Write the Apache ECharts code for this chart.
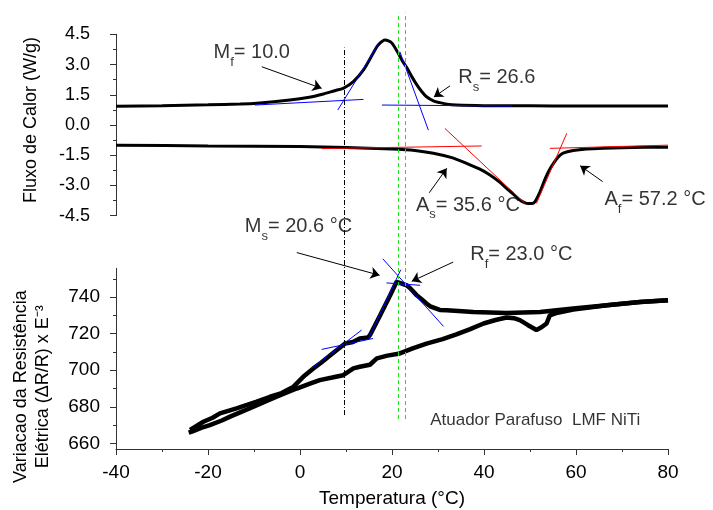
<!DOCTYPE html>
<html>
<head>
<meta charset="utf-8">
<script src="https://cdn.jsdelivr.net/npm/echarts@6/dist/echarts.min.js"></script>
<style>html,body{margin:0;padding:0;background:#fff}#c{width:713px;height:510px}</style>
</head>
<body>
<div id="c"></div>
<script>
// ---------- DATA ----------
// DSC, cooling run (upper curve)
const dscCoolX = [-40,-30,-20,-13,-9.4,-2.2,2,5.1,7.5,9.4,11.6,13.8,15.9,17,18.5,19.9,21.2,22.2,23.2,24.3,25.4,26.5,27.5,29,30.4,32,34,40,50,60,70,80];
const dscCoolY = [0.93,0.96,1.0,1.04,1.08,1.24,1.38,1.54,1.7,1.82,2.15,2.73,3.56,3.97,4.22,4.08,3.62,3.2,2.85,2.4,1.99,1.65,1.4,1.2,1.11,1.03,0.99,0.96,0.95,0.94,0.94,0.94];
// DSC, heating run (lower curve)
const dscHeatX = [-40,-20,0,10,20,25,29,33,36.2,39,41.3,43.2,44.9,46.5,47.8,48.8,49.6,50.4,51.1,52.2,52.9,54,55.1,56.2,57.2,59.4,62.3,66,70,75,80];
const dscHeatY = [-1.0,-1.04,-1.07,-1.12,-1.19,-1.26,-1.4,-1.62,-1.9,-2.18,-2.48,-2.8,-3.14,-3.45,-3.72,-3.85,-3.9,-3.9,-3.8,-3.31,-2.89,-2.32,-1.9,-1.57,-1.4,-1.27,-1.19,-1.15,-1.13,-1.11,-1.1];
// Resistance, cooling run
const resCoolX = [80,73.9,66.7,59.4,52.2,44.9,37.7,31.9,30.4,28.3,27.5,26.1,25.4,23.9,23.2,22,21,20.7,19.6,17.4,15.2,14.8,13,11.5,9.8,7,4.5,2.9,0.7,-1.4,-4,-6.5,-9.4,-11.5,-13.8,-17.4,-19,-21,-23.9];
const resCoolY = [738.3,737.4,735.6,733.8,731.9,731.4,731.9,732.8,733,735,736.5,739.5,741,745,746.5,747.6,748.4,747.5,741,730,719.2,718,717.4,715.5,714.6,709,704,701,696.4,691,687.5,685.5,682.8,681,679.1,676.4,674,671.8,667.3];
// Resistance, heating run
const resHeatX = [-24.2,-23.5,-21.5,-19.6,-17,-15.2,-12.5,-10.1,-7,-4.3,-0.7,2,4.3,7,9.4,11.6,13,15.2,16.7,19,21.7,24.5,27.5,31,34,37,39.9,42.5,44.9,46.5,47.8,49.5,51.4,52.5,53.6,54.3,56,59.4,62,66.7,73.9,80];
const resHeatY = [665.8,666.4,668.5,670,672.5,674.6,677.5,680,683.5,686.4,690,692.5,694.6,696,697.3,701,701.9,703,706.5,708,709.2,712,714.6,717,719.6,722.5,725.6,727.5,728.9,728.5,727.4,724.8,722,723.5,725.6,730,731.5,733.2,734,735.6,737.4,738.3];

// tangent construction lines [x1, y1, x2, y2]
const dscBlueTangents = [[-9.8,0.99,13.8,1.27],[8.2,0.74,17.0,4.0],[21.7,3.64,27.9,-0.25],[17.8,0.99,46,0.94]];
const dscRedTangents = [[4.7,-1.17,39.5,-1.04],[31.5,-0.17,48.9,-3.89],[51.4,-3.89,58,-0.41],[54.3,-1.16,80,-1.0]];
const resBlueTangents = [[2.5,701,13.4,722],[4.7,711.4,15.9,717.4],[14.9,717.4,21.9,755],[18,761,31.2,724],[18.8,747.8,26.1,746.5]];

// transition temperature guide lines
const mfGuideX = 9.6;
const greenGuideX = [21.4, 22.9];

// tick labels
const xTicks = [-40,-20,0,20,40,60,80];
const dscTicks = [-4.5,-3.0,-1.5,0.0,1.5,3.0,4.5];
const resTicks = [660,680,700,720,740];
const resMinorTicks = [670,690,710,730,750];

// annotation texts
const topLabels = [['M','f','= 10.0'],['R','s','= 26.6'],['A','s','= 35.6 °C'],['A','f','= 57.2 °C']];
const bottomLabels = [['M','s','= 20.6 °C'],['R','f','= 23.0 °C']];
const sampleNote = 'Atuador Parafuso  LMF NiTi';

// ---------- LAYOUT (positions in data units) ----------
const topLabelPos = [[-18.8,3.45],[34.4,2.21],[25.2,-4.13],[66.2,-3.86]];
const topArrows = [[-8.3,2.89,4.7,1.82],[32.6,1.94,29.1,1.39],[28.1,-3.36,31.9,-2.15],[65.8,-2.81,60.9,-2.02]];
const bottomLabelPos = [[-12,776.8],[37,761.5]];
const bottomArrows = [[-0.7,764.4,17.3,752],[33.3,759.2,24.3,748.7]];
const notePos = [28.3,672.7];
const mfGuideSpan = [675.5,876.6];
const greenGuideSpan = [673.3,895.7];

const FONT = '"Liberation Sans", Arial, sans-serif';
const AX = '#333';
const zip = (xs, ys) => xs.map((x, i) => [x, ys[i]]);
const segs = (arr) => arr.map(s => ({coords: [[s[0], s[1]], [s[2], s[3]]]}));
const rich = {
  a: {fontSize: 20, fontFamily: FONT, color: '#000', lineHeight: 26, verticalAlign: 'top'},
  s: {fontSize: 13, fontFamily: FONT, color: '#000', lineHeight: 8, verticalAlign: 'bottom'}
};
const richText = (l) => '{a|' + l[0] + '}{s|' + l[1] + '}{a|' + l[2] + '}';

const chart = echarts.init(document.getElementById('c'), null, {renderer: 'canvas'});
const option = {
  animation: false,
  backgroundColor: '#fff',
  textStyle: {fontFamily: FONT, color: '#000'},
  grid: [
    {left: 116, top: 34.3, width: 552, height: 181.4, containLabel: false, outerBoundsMode: 'none'},
    {left: 116, top: 268.3, width: 552, height: 180.7, containLabel: false, outerBoundsMode: 'none'}
  ],
  xAxis: [
    {gridIndex: 0, type: 'value', min: -40, max: 80, show: false},
    {gridIndex: 1, type: 'value', min: -40, max: 80, interval: 20,
      axisLine: {show: true, onZero: false, lineStyle: {color: AX, width: 1}},
      axisTick: {show: true, length: 6, lineStyle: {color: AX}, customValues: xTicks},
      minorTick: {show: true, splitNumber: 2, length: 3, lineStyle: {color: AX}},
      splitLine: {show: false},
      axisLabel: {fontSize: 19, color: '#000', margin: 14, fontFamily: FONT, customValues: xTicks},
      name: 'Temperatura (°C)', nameLocation: 'middle', nameGap: 40, nameMoveOverlap: false,
      nameTextStyle: {fontSize: 19, color: '#000', fontFamily: FONT}}
  ],
  yAxis: [
    {gridIndex: 0, type: 'value', min: -4.5, max: 4.5, interval: 1.5,
      axisLine: {show: true, onZero: false, lineStyle: {color: AX, width: 1}},
      axisTick: {show: true, length: 6, lineStyle: {color: AX}},
      minorTick: {show: true, splitNumber: 2, length: 3, lineStyle: {color: AX}},
      splitLine: {show: false},
      axisLabel: {fontSize: 18, color: '#000', margin: 26, fontFamily: FONT,
        formatter: v => { const t = dscTicks.find(d => Math.abs(d - v) < 1e-6); return t === undefined ? '' : t.toFixed(1); }},
      name: 'Fluxo de Calor (W/g)', nameLocation: 'middle', nameGap: 76, nameRotate: 90, nameMoveOverlap: false,
      nameTextStyle: {fontSize: 18, color: '#000', fontFamily: FONT, padding: [0, 0, 0, 10]}},
    {gridIndex: 1, type: 'value', min: 656.9, max: 755.8, position: 'left',
      axisLine: {show: true, onZero: false, lineStyle: {color: AX, width: 1}},
      axisTick: {show: true, length: 6, lineStyle: {color: AX}, customValues: resTicks},
      splitLine: {show: false},
      axisLabel: {fontSize: 19, color: '#000', margin: 16, fontFamily: FONT, customValues: resTicks},
      name: 'Variacao da Resistência\nElétrica (ΔR/R) x E⁻³', nameLocation: 'middle', nameGap: 62, nameRotate: 90, nameMoveOverlap: false,
      nameTextStyle: {fontSize: 18, color: '#000', fontFamily: FONT, lineHeight: 22, padding: [0, 56, 0, 0]}},
    {gridIndex: 1, type: 'value', min: 656.9, max: 755.8, position: 'left',
      axisLine: {show: false, onZero: false},
      axisTick: {show: true, length: 3, lineStyle: {color: AX}, customValues: resMinorTicks},
      axisLabel: {show: false}, splitLine: {show: false}}
  ],
  series: [
    {type: 'line', xAxisIndex: 0, yAxisIndex: 0, data: zip(dscCoolX, dscCoolY), showSymbol: false, smooth: 0.25,
      lineStyle: {color: '#000', width: 3}, z: 2},
    {type: 'line', xAxisIndex: 0, yAxisIndex: 0, data: zip(dscHeatX, dscHeatY), showSymbol: false, smooth: 0.25,
      lineStyle: {color: '#000', width: 3}, z: 2},
    {type: 'line', xAxisIndex: 1, yAxisIndex: 1, data: zip(resCoolX, resCoolY), showSymbol: false,
      lineStyle: {color: '#000', width: 4.5}, z: 2},
    {type: 'line', xAxisIndex: 1, yAxisIndex: 1, data: zip(resHeatX, resHeatY), showSymbol: false,
      lineStyle: {color: '#000', width: 4.5}, z: 2},
    {type: 'lines', coordinateSystem: 'cartesian2d', xAxisIndex: 0, yAxisIndex: 0, clip: false, silent: true,
      data: segs(dscBlueTangents), lineStyle: {color: '#0000ff', width: 1, opacity: 1}, z: 3},
    {type: 'lines', coordinateSystem: 'cartesian2d', xAxisIndex: 0, yAxisIndex: 0, clip: false, silent: true,
      data: segs(dscRedTangents), lineStyle: {color: '#ff0000', width: 1, opacity: 1}, z: 3},
    {type: 'lines', coordinateSystem: 'cartesian2d', xAxisIndex: 1, yAxisIndex: 1, clip: false, silent: true,
      data: segs(resBlueTangents), lineStyle: {color: '#0000ff', width: 1, opacity: 1}, z: 3},
    {type: 'lines', coordinateSystem: 'cartesian2d', xAxisIndex: 1, yAxisIndex: 1, clip: false, silent: true,
      data: [{coords: [[mfGuideX, mfGuideSpan[0]], [mfGuideX, mfGuideSpan[1]]], lineStyle: {color: '#000', type: [5, 2, 1, 2], width: 1, opacity: 1}}]
        .concat(greenGuideX.map(g => ({coords: [[g, greenGuideSpan[0]], [g, greenGuideSpan[1]]], lineStyle: {color: '#22dd22', type: [4, 3], width: 1, opacity: 1}}))),
      z: 4},
    {type: 'lines', coordinateSystem: 'cartesian2d', xAxisIndex: 0, yAxisIndex: 0, clip: false, silent: true,
      data: segs(topArrows), symbol: ['none', 'arrow'], symbolSize: 9,
      lineStyle: {color: '#000', width: 1, opacity: 1}, z: 5},
    {type: 'lines', coordinateSystem: 'cartesian2d', xAxisIndex: 1, yAxisIndex: 1, clip: false, silent: true,
      data: segs(bottomArrows), symbol: ['none', 'arrow'], symbolSize: 9,
      lineStyle: {color: '#000', width: 1, opacity: 1}, z: 5},
    {type: 'scatter', xAxisIndex: 0, yAxisIndex: 0, clip: false, silent: true, symbolSize: 0,
      data: topLabelPos.map((p, i) => ({value: p, label: {formatter: richText(topLabels[i])}})),
      label: {show: true, position: 'right', distance: 0, rich: rich}, z: 6},
    {type: 'scatter', xAxisIndex: 1, yAxisIndex: 1, clip: false, silent: true, symbolSize: 0,
      data: bottomLabelPos.map((p, i) => ({value: p, label: {formatter: richText(bottomLabels[i])}}))
        .concat([{value: notePos, label: {formatter: sampleNote, fontSize: 17, fontFamily: FONT, color: '#000'}}]),
      label: {show: true, position: 'right', distance: 0, rich: rich}, z: 6}
  ]
};
chart.setOption(option);
</script>
</body>
</html>
